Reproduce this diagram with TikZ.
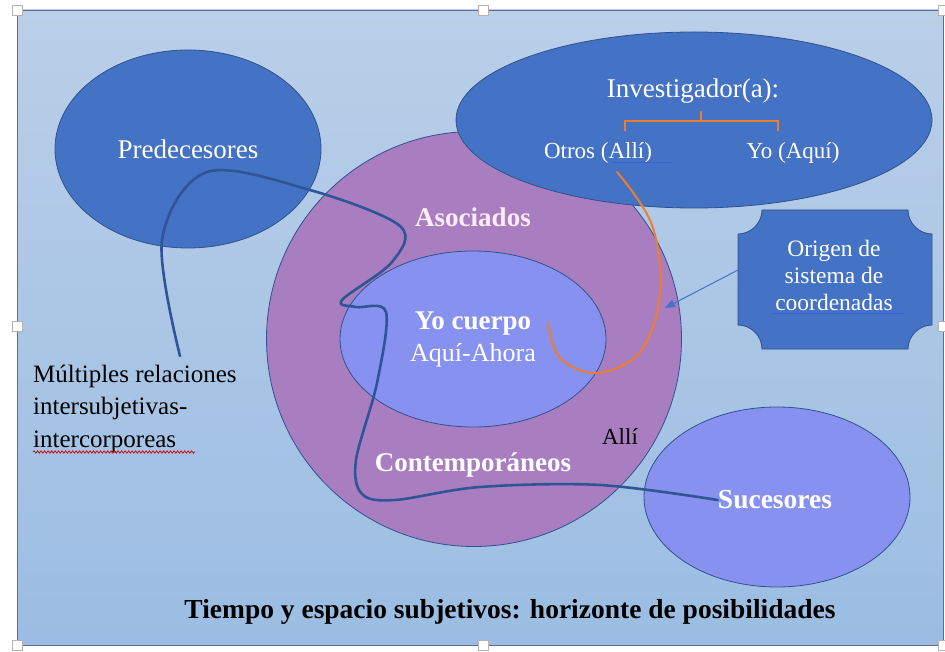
\documentclass[tikz,border=0pt]{standalone}
\usepackage{fontspec}
\setmainfont{Liberation Serif}
\usetikzlibrary{shapes.geometric,arrows.meta,decorations.pathmorphing}
\definecolor{bgtop}{RGB}{186,207,232}
\definecolor{bgbot}{RGB}{155,189,227}
\definecolor{dblue}{RGB}{68,114,196}
\definecolor{bdr}{RGB}{47,82,143}
\definecolor{purp}{RGB}{168,126,192}
\definecolor{peri}{RGB}{135,146,240}
\definecolor{curvec}{RGB}{47,85,151}
\definecolor{orng}{RGB}{237,125,49}
\definecolor{pinkw}{RGB}{252,236,246}
\definecolor{ulblue}{RGB}{60,95,225}
\tikzset{
  blob/.style={ellipse, draw=bdr, line width=0.8pt, inner sep=0pt},
  wtxt/.style={text=white, inner sep=0pt},
  btxt/.style={text=black, inner sep=0pt},
  bluecurve/.style={draw=curvec, line width=2.6pt, line cap=round},
  orcurve/.style={draw=orng, line width=2pt, line cap=round},
  handle/.style={fill=white, draw=gray!60, line width=0.6pt}
}
\begin{document}
\begin{tikzpicture}[x=1pt,y=-1pt]
\useasboundingbox (0,0) rectangle (945,652);
\fill[white] (0,0) rectangle (945,652);
\shade[top color=bgtop, bottom color=bgbot] (17,10) rectangle (943,645);
\draw[draw=gray!80!blue, line width=0.6pt] (17,10) rectangle (943,645);
\foreach \p in {(17,10),(483,10),(943,10),(17,326),(943,326),(17,645),(483,645),(943,645)}
  \filldraw[handle] \p ++(-5,-5) rectangle ++(10,10);

% shapes
\node[circle, draw=bdr, line width=0.8pt, fill=purp, minimum size=415pt, inner sep=0pt] (mid) at (474,339) {};
\node[blob, fill=peri, minimum width=266pt, minimum height=176pt, align=center, text=white,
  font=\fontsize{27}{32}\selectfont] (inner) at (473,339)
  {{\bfseries Yo cuerpo}\\{\fontsize{26}{32}\selectfont Aquí-Ahora}};
\node[blob, fill=dblue, minimum width=476pt, minimum height=176pt] (inv) at (694,120) {};
\node[blob, fill=dblue, minimum width=266pt, minimum height=198pt, text=white,
  font=\fontsize{27}{32}\selectfont] (pred) at (188,149) {Predecesores};
\node[blob, fill=peri, minimum width=266pt, minimum height=180pt] (suc) at (777,497) {};

% origin box
\draw[fill=dblue, draw=bdr, line width=0.8pt]
  (762,210) -- (908,210) .. controls (908,223) and (919,234) .. (932,234)
  -- (932,325) .. controls (919,325) and (908,336) .. (908,349)
  -- (762,349) .. controls (762,336) and (751,325) .. (738,325)
  -- (738,234) .. controls (751,234) and (762,223) .. (762,210) -- cycle;
\node[wtxt, align=center, font=\fontsize{23.5}{27}\selectfont] (orig) at (834,275)
  {Origen de\\sistema de\\coordenadas};
\draw[ulblue, line width=1pt] (773,314) -- (905,314);

% texts
\node[wtxt, font=\fontsize{27}{32}\selectfont] (invt) at (693,91) {Investigador(a):};
\node[wtxt, font=\fontsize{23}{28}\selectfont] (otros) at (598,153) {Otros (Allí)};
\node[wtxt, font=\fontsize{23}{28}\selectfont] (yo) at (793,153) {Yo (Aquí)};
\draw[ulblue, line width=1pt] (613,163) -- (672,163);
\node[inner sep=0pt, text=pinkw, font=\fontsize{27}{32}\selectfont\bfseries] (asoc) at (473,217) {Asociados};
\node[btxt, font=\fontsize{23}{28}\selectfont] (alli) at (620,437) {Allí};
\node[wtxt, font=\fontsize{27}{32}\selectfont\bfseries] (cont) at (473,465) {Contemporáneos};
\node[wtxt, font=\fontsize{27.5}{32}\selectfont\bfseries] (suct) at (775,500) {Sucesores};
\node[btxt, anchor=base west, font=\fontsize{25}{30}\selectfont] (m1) at (33,382) {Múltiples relaciones};
\node[btxt, anchor=base west, font=\fontsize{25}{30}\selectfont] (m2) at (33,414.5) {intersubjetivas-};
\node[btxt, anchor=base west, font=\fontsize{25}{30}\selectfont] (m3) at (33,447) {intercorporeas};
\draw[red!85!black, line width=0.7pt, decorate, decoration={snake, amplitude=1.2pt, segment length=3.5pt}]
  (33,452) -- (195,452);
\node[btxt, font=\fontsize{27.5}{32}\selectfont\bfseries] (title) at (510,612)
  {Tiempo y espacio subjetivos: horizonte de posibilidades};

% bracket
\draw[orng, line width=2pt] (625,131) -- (625,121) -- (778,121) -- (778,131);
\draw[orng, line width=2pt] (701,121) -- (701,111);

% connectors
\coordinate (c0) at (180,356);
\draw[bluecurve] plot[smooth, tension=0.55] coordinates {(c0) (162,240) (207,172) (310,190) (400,226) (392,262) (342,300) (356,307) (386,312) (377,383) (356,460) (362,494) (395,500) (480,487) (600,485) (suct.west)};
\coordinate (o0) at (617,172);
\coordinate (o1) at (548,323);
\draw[orcurve] plot[smooth, tension=0.6] coordinates {(o0) (652,225) (660,295) (640,352) (597,373) (560,358) (o1)};
\coordinate (ow) at (738,270);
\draw[dblue, line width=1pt, -{Triangle[length=10pt,width=8pt]}] (ow) -- (665,308);
\end{tikzpicture}
\end{document}
